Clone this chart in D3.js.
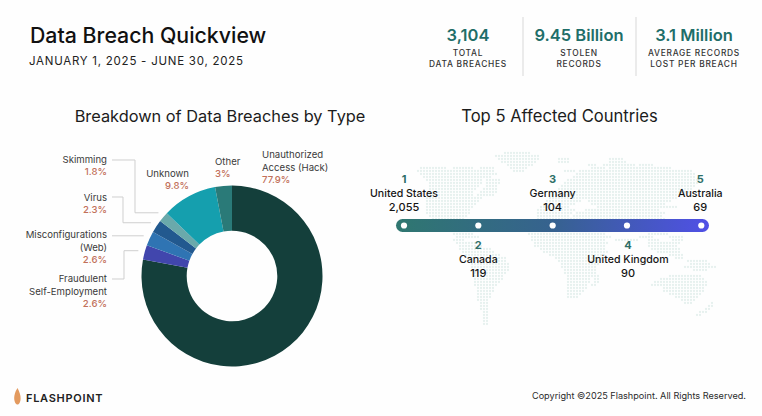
<!DOCTYPE html>
<html><head><meta charset="utf-8">
<script src="https://cdn.jsdelivr.net/npm/d3@7"></script>
<style>
html,body{margin:0;padding:0;background:#fefefe;overflow:hidden}
svg{display:block;font-family:Inter,"Noto Sans",sans-serif}
</style></head><body><div id="c"></div>
<script>
const breachTypes = ["Unauthorized Access (Hack)","Fraudulent Self-Employment","Misconfigurations (Web)","Virus","Skimming","Unknown","Other"];
const breachShares = [77.9,2.6,2.6,2.3,1.8,9.8,3];
const breachColors = ["#143f3b","#4146ad","#2f74b3","#22598f","#6aa9ab","#159fae","#2a7a78"];
const countries = ["United States","Canada","Germany","United Kingdom","Australia"];
const countryCounts = ["2,055","119","104","90","69"];
const kpiValues = ["3,104","9.45 Billion","3.1 Million"];
const kpiLabels = [["TOTAL","DATA BREACHES"],["STOLEN","RECORDS"],["AVERAGE RECORDS","LOST PER BREACH"]];
// dotted world map: row index -> land spans in grid columns
const mapLand = [
[1,[35,43]],[2,[32,46]],[3,[33,46],[53,56],[70,74]],[4,[34,45],[53,56],[70,75]],
[5,[36,44],[63,65],[68,78],[80,84]],
[6,[7,15],[18,24],[27,31],[37,42],[64,68],[70,90]],
[7,[6,31],[38,41],[55,58],[60,97]],
[8,[7,32],[59,98]],[9,[8,30],[58,98]],[10,[9,27],[29,33],[56,99]],
[11,[10,27],[29,33],[55,99]],[12,[10,26],[29,32],[54,98]],[13,[10,25],[28,32],[53,97]],
[14,[10,24],[27,32],[52,96]],[15,[10,24],[26,31],[51,94]],[16,[9,27],[50,92]],
[17,[9,26],[49,60],[63,90]],[18,[9,25],[48,58],[64,88]],[19,[9,24],[47,56],[66,92]],
[20,[9,23],[46,58],[62,86]],[21,[9,23],[46,57],[59,88]],[22,[10,22],[46,56],[58,87]],
[23,[11,21],[46,59],[60,88]],[24,[13,20],[47,90]],
[25,[15,21],[44,64],[70,88]],[26,[16,22],[43,66],[78,88]],[27,[17,23],[43,68],[80,88]],
[28,[18,24],[43,68],[83,89]],
[29,[19,26],[44,70],[80,84],[90,94]],
[30,[18,21],[44,68],[72,79],[83,86],[91,94]],
[31,[19,25],[45,69],[83,93]],[32,[20,27],[45,68],[83,92]],
[33,[20,30],[47,68],[84,93]],[34,[21,31],[48,69],[86,93]],
[35,[22,33],[50,68],[90,94]],[36,[23,35],[52,67],[92,94]],
[37,[24,35],[53,66],[96,102]],[38,[24,36],[54,66],[97,103]],[39,[24,36],[54,65],[95,105]],
[40,[25,36],[55,65],[98,102]],[41,[25,35],[55,64],[64,65]],
[42,[25,34],[56,64],[65,66],[90,95],[96,100]],
[43,[25,34],[56,63],[65,66],[87,101]],[44,[25,33],[56,63],[65,66],[85,102]],
[45,[25,32],[56,62],[64,65],[84,102]],[46,[26,31],[56,62],[88,101]],
[47,[26,31],[56,61],[88,101]],[48,[26,30],[56,60],[90,100]],[49,[26,30],[56,59],[92,99]],
[50,[26,29],[94,98]],[51,[27,29],[95,97],[104,104]],[52,[27,29],[103,104]],
[53,[27,29],[102,103]],[54,[28,29],[100,102]],[55,[28,29],[99,100]],
[56,[28,29]],[57,[28,29]],[58,[28,29]]
];

const W=762,H=416;
const svg=d3.select("#c").append("svg").attr("width",W).attr("height",H);
const text=(x,y,t,o={})=>svg.append("text").attr("x",x).attr("y",y).text(t)
  .attr("font-size",o.s||11).attr("font-weight",o.w||400).attr("fill",o.c||"#2b2b2b")
  .attr("text-anchor",o.a||"start").attr("letter-spacing",o.l||0);

// header
text(30,43,"Data Breach Quickview",{s:21.3,w:500,c:"#111"});
text(29,65,"JANUARY 1, 2025 - JUNE 30, 2025",{s:11.5,c:"#222",l:0.75});
const kpiX=[468,579,694];
kpiValues.forEach((v,i)=>{
  text(kpiX[i],41,v,{s:16.5,w:600,c:"#1f6e69",a:"middle"});
  kpiLabels[i].forEach((l,j)=>text(kpiX[i],56+j*11,l,{s:8.4,w:500,c:"#333",a:"middle",l:0.75}));
});
[523,636].forEach(x=>svg.append("line").attr("x1",x).attr("x2",x).attr("y1",17).attr("y2",76).attr("stroke","#d8d8d8"));

text(220,122,"Breakdown of Data Breaches by Type",{s:16.35,w:400,c:"#1c1c1c",a:"middle"});
text(559.5,122,"Top 5 Affected Countries",{s:16.6,w:400,c:"#1c1c1c",a:"middle"});

// donut
const cx=232,cy=276;
const pie=d3.pie().sort(null).value(d=>d)(breachShares);
const arc=d3.arc().innerRadius(45.3).outerRadius(90.5);
const g=svg.append("g").attr("transform",`translate(${cx},${cy})`);
g.selectAll("path").data(pie).join("path").attr("d",arc).attr("fill",(d,i)=>breachColors[i]);

// leaders: anchored on each slice's mid-angle
const lead=d3.arc().innerRadius(97).outerRadius(97);
const leaders=[[1,279,124],[2,235,null],[3,197,123],[4,160,135]];
leaders.forEach(([i,ly,ex])=>{
  const [px,py]=lead.centroid(pie[i]);
  const ax=cx+px, ay=cy+py;
  const pts = ex===null ? [[112,ay],[ax,ay]] : [[112,ly],[ex,ly],[ex,ay],[ax,ay]];
  svg.append("path").attr("d",d3.line()(pts)).attr("fill","none").attr("stroke","#cfcfcf").attr("stroke-width",1);
});

const lab="#3a3a3a",pct="#c2705a";
const S=9.6;
const rt=(y,t)=>text(107,y,t,{s:S,c:lab,a:"end"});
const rp=(y,i)=>text(107,y,breachShares[i]+"%",{s:S,w:500,c:pct,a:"end"});
rt(163,"Skimming");rp(175,4);
rt(201,"Virus");rp(213,3);
rt(238,"Misconfigurations");rt(251,"(Web)");rp(263,2);
rt(282,"Fraudulent");rt(295,"Self-Employment");rp(307,1);
text(189,177,"Unknown",{s:S,c:lab,a:"end"});text(189,189,breachShares[5]+"%",{s:S,w:500,c:pct,a:"end"});
text(215,165,"Other",{s:S,c:lab});text(215,177,breachShares[6]+"%",{s:S,w:500,c:pct});
text(262,158,"Unauthorized",{s:S,c:lab});text(262,171,"Access (Hack)",{s:S,c:lab});text(262,183,breachShares[0]+"%",{s:S,w:500,c:pct});

// map dots
const mx=d3.scaleLinear().domain([0,1]).range([400,403]);
const my=d3.scaleLinear().domain([0,1]).range([150,153]);
const dots=[];
mapLand.forEach(([r,...spans])=>spans.forEach(([a,b])=>d3.range(a,b+1).forEach(c=>dots.push([c,r]))));
svg.append("g").selectAll("circle").data(dots).join("circle")
  .attr("cx",d=>mx(d[0])).attr("cy",d=>my(d[1])).attr("r",1.15).attr("fill","#e7f1ef");

// timeline
const defs=svg.append("defs");
const grad=defs.append("linearGradient").attr("id","tl");
grad.append("stop").attr("offset","0").attr("stop-color","#2f7770");
grad.append("stop").attr("offset","0.5").attr("stop-color","#36628f");
grad.append("stop").attr("offset","1").attr("stop-color","#5050e6");
const tx=d3.scalePoint().domain(countries).range([404,701.3]);
svg.append("rect").attr("x",396).attr("y",219).attr("width",313).attr("height",13).attr("rx",6.5).attr("fill","url(#tl)");
svg.selectAll(".d").data(countries).join("circle").attr("class","d")
  .attr("cx",d=>tx(d)).attr("cy",225.5).attr("r",3.1).attr("fill","#fff");
countries.forEach((c,i)=>{
  const up=i%2===0, y0=up?183:249, x=tx(c)+(i===4?-1:i===3?1:0);
  text(x,y0,i+1,{s:11,w:700,c:"#2f6f68",a:"middle"});
  text(x,y0+13.5,c,{s:10.6,w:500,c:"#151515",a:"middle"});
  text(x,y0+27.5,countryCounts[i],{s:11,w:500,c:"#151515",a:"middle"});
});

// footer
svg.append("path").attr("d","M17.5 388C15 392 14.2 395 14.2 398C14.2 402 15.8 404.5 17.5 404.5C19.2 404.5 20.6 402 20.6 398C20.6 395 19.5 392 17.5 388Z").attr("fill","#e39a5f");
text(26,402,"FLASHPOINT",{s:11,w:600,c:"#222",l:0.7});
text(746,399,"Copyright ©2025 Flashpoint. All Rights Reserved.",{s:9.15,c:"#2a2a2a",a:"end"});
</script></body></html>
